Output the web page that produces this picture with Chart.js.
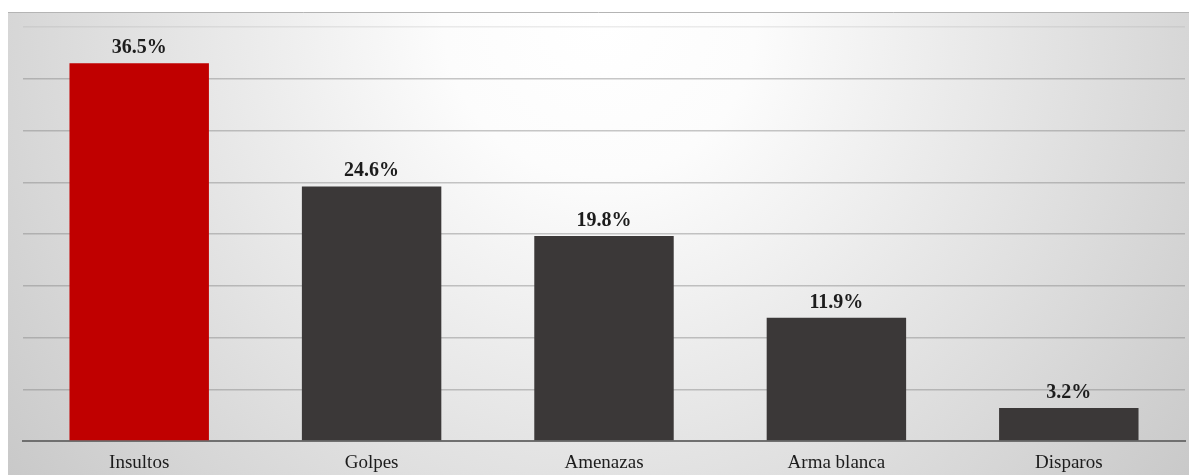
<!DOCTYPE html>
<html>
<head>
<meta charset="utf-8">
<script src="https://cdn.jsdelivr.net/npm/chart.js@4.4.1/dist/chart.umd.min.js"></script>
<style>
  html, body { margin: 0; padding: 0; background: #ffffff; }
  #wrap { width: 1189px; height: 475px; position: relative; }
</style>
</head>
<body>
<div id="wrap"><canvas id="c" width="1189" height="475"></canvas></div>
<script>
// Tipos de agresión y su porcentaje
const categories = ['Insultos', 'Golpes', 'Amenazas', 'Arma blanca', 'Disparos'];
const values = [36.5, 24.6, 19.8, 11.9, 3.2];
const valueLabels = ['36.5%', '24.6%', '19.8%', '11.9%', '3.2%'];
const barColors = ['#c00000', '#3b3838', '#3b3838', '#3b3838', '#3b3838'];
const yMax = 40;
const yStep = 5;

// Fondo con degradado radial y línea superior del recuadro
const backdrop = {
  id: 'backdrop',
  beforeDraw(chart) {
    const ctx = chart.ctx;
    const W = chart.width, H = chart.height;
    ctx.save();
    ctx.fillStyle = '#ffffff';
    ctx.fillRect(0, 0, W, H);
    const x0 = 8, y0 = 12;
    const g = ctx.createRadialGradient(600, 20, 0, 600, 20, 780);
    g.addColorStop(0, '#ffffff');
    g.addColorStop(0.2, '#fcfcfc');
    g.addColorStop(1, '#c6c6c6');
    ctx.fillStyle = g;
    ctx.fillRect(x0, y0, W - x0, H - y0);
    ctx.strokeStyle = '#b4b4b4';
    ctx.lineWidth = 1;
    ctx.beginPath();
    ctx.moveTo(x0, y0 + 0.5);
    ctx.lineTo(W, y0 + 0.5);
    ctx.stroke();
    ctx.restore();
  }
};

// Etiquetas de valor sobre cada barra
const valueTags = {
  id: 'valueTags',
  afterDatasetsDraw(chart) {
    const ctx = chart.ctx;
    const meta = chart.getDatasetMeta(0);
    ctx.save();
    ctx.font = 'bold 20px "Liberation Serif", "Times New Roman", serif';
    ctx.fillStyle = '#1c1c1c';
    ctx.textAlign = 'center';
    ctx.textBaseline = 'alphabetic';
    meta.data.forEach((bar, i) => {
      ctx.fillText(valueLabels[i], bar.x, bar.y - 10);
    });
    ctx.restore();
  }
};

new Chart(document.getElementById('c'), {
  type: 'bar',
  data: {
    labels: categories,
    datasets: [{
      data: values,
      backgroundColor: barColors,
      borderWidth: 0,
      categoryPercentage: 0.6,
      barPercentage: 1.0
    }]
  },
  options: {
    responsive: false,
    animation: false,
    devicePixelRatio: 1,
    layout: { padding: { left: 23, right: 4, top: 27, bottom: 0 } },
    plugins: {
      legend: { display: false },
      tooltip: { enabled: false }
    },
    scales: {
      x: {
        grid: { display: false, drawTicks: false },
        border: { display: true, color: '#707070', width: 2 },
        ticks: {
          color: '#1c1c1c',
          padding: 11,
          font: { family: '"Liberation Serif", "Times New Roman", serif', size: 19 }
        },
        afterFit(scale) { scale.height = 34; }
      },
      y: {
        min: 0,
        max: yMax,
        ticks: { display: false, stepSize: yStep },
        grid: {
          drawTicks: false,
          lineWidth: 1.5,
          color: (c) => c.tick && c.tick.value === yMax ? 'rgba(150,150,150,0.18)' : 'rgba(130,130,130,0.45)'
        },
        border: { display: false },
        afterFit(scale) { scale.width = 0; }
      }
    }
  },
  plugins: [backdrop, valueTags]
});
</script>
</body>
</html>
